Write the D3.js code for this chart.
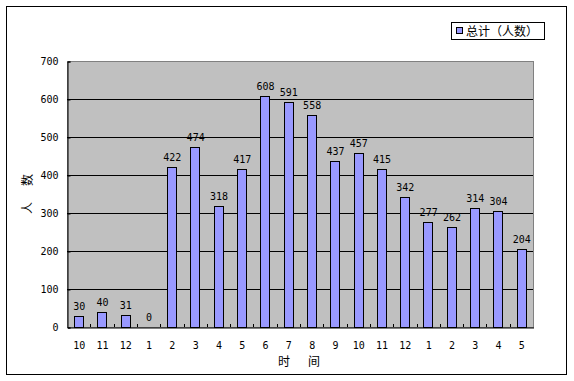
<!DOCTYPE html>
<html><head><meta charset="utf-8">
<script src="https://cdn.jsdelivr.net/npm/d3@7"></script>
<style>body{margin:0;background:#fff}</style>
</head><body>
<svg id="c" width="574" height="381"></svg>
<script>
const categories = ["10","11","12","1","2","3","4","5","6","7","8","9","10","11","12","1","2","3","4","5"];
const values = [30,40,31,0,422,474,318,417,608,591,558,437,457,415,342,277,262,314,304,204];
const yTicks = [0,100,200,300,400,500,600,700];
const seriesName = "总计（人数）";
const yTitle = ["人","数"];
const xTitle = ["时","间"];

const svg = d3.select("#c");
const numFont = "'DejaVu Sans Mono', monospace";
const cjkFont = "'Noto Sans CJK SC', sans-serif";

// outer border
svg.append("rect").attr("x",6.5).attr("y",6.5).attr("width",560).attr("height",368)
  .attr("fill","#fff").attr("stroke","#000").attr("stroke-width",1);

const L=67, T=61, R=533, B=327;
const x = d3.scaleBand().domain(d3.range(categories.length)).range([L,R]).paddingInner(0.6).paddingOuter(0.3);
const xb = d3.scaleBand().domain(d3.range(categories.length)).range([L,R]);
const y = d3.scaleLinear().domain([0,700]).range([B,T]);

// plot area
svg.append("rect").attr("x",L).attr("y",T).attr("width",R-L).attr("height",B-T)
  .attr("fill","#C0C0C0").attr("stroke","#808080").attr("stroke-width",1).attr("transform","translate(0.5,0.5)");

// gridlines
svg.append("g").selectAll("line").data(yTicks.filter(d=>d>0 && d<700)).join("line")
  .attr("x1",L).attr("x2",R).attr("y1",d=>Math.round(y(d))+0.5).attr("y2",d=>Math.round(y(d))+0.5)
  .attr("stroke","#000").attr("stroke-width",1);

// bars
svg.append("g").selectAll("rect").data(values).join("rect")
  .attr("x",(d,i)=>Math.round(x(i))+0.5).attr("width",Math.round(x.bandwidth()))
  .attr("y",d=>Math.round(y(d))+0.5).attr("height",d=>Math.round(y(0))-Math.round(y(d)))
  .attr("fill","#9999FF").attr("stroke","#000").attr("stroke-width",1);

// bar labels
svg.append("g").selectAll("text").data(values).join("text")
  .attr("x",(d,i)=>x(i)+x.bandwidth()/2+0.5).attr("y",d=>y(d)-6)
  .attr("text-anchor","middle").attr("font-family",numFont).attr("font-size",10).attr("fill","#000")
  .text(d=>d);

// y axis
const yAxis = d3.axisLeft(y).tickValues(yTicks).tickSize(-3).tickPadding(9);
const gy = svg.append("g").attr("transform",`translate(${L+0.5},0.5)`).call(yAxis);
gy.select(".domain").attr("stroke","#000");
gy.selectAll(".tick line").attr("stroke","#000");
gy.selectAll("text").attr("font-family",numFont).attr("font-size",10).attr("fill","#000");

// x axis
const xAxis = d3.axisBottom(xb).tickFormat(i=>categories[i]).tickSize(0).tickPadding(14);
const gx = svg.append("g").attr("transform",`translate(0.5,${B+0.5})`).call(xAxis);
gx.select(".domain").attr("stroke","#000");
gx.selectAll("text").attr("font-family",numFont).attr("font-size",10).attr("fill","#000");
// category boundary ticks (inward)
svg.append("g").selectAll("line").data(d3.range(1,categories.length)).join("line")
  .attr("x1",i=>Math.round(xb(i))+0.5).attr("x2",i=>Math.round(xb(i))+0.5)
  .attr("y1",B).attr("y2",B-3).attr("stroke","#000");

// y title (rotated, reading bottom to top)
svg.append("g").attr("transform","translate(32,194) rotate(-90)")
  .selectAll("text").data(yTitle).join("text")
  .attr("x",(d,i)=>-14+i*28).attr("y",0).attr("text-anchor","middle")
  .attr("font-family",cjkFont).attr("font-size",12).attr("fill","#000").text(d=>d);

// x title
svg.append("g").selectAll("text").data(xTitle).join("text")
  .attr("x",(d,i)=>284+i*30).attr("y",366).attr("text-anchor","middle")
  .attr("font-family",cjkFont).attr("font-size",12).attr("fill","#000").text(d=>d);

// legend
const lg = svg.append("g");
lg.append("rect").attr("x",451.5).attr("y",22.5).attr("width",93).attr("height",17)
  .attr("fill","#fff").attr("stroke","#000");
lg.append("rect").attr("x",456.5).attr("y",27.5).attr("width",6).attr("height",6)
  .attr("fill","#9999FF").attr("stroke","#000");
lg.append("text").attr("x",466).attr("y",36).attr("font-family",cjkFont).attr("font-size",12)
  .attr("fill","#000").text(seriesName);
</script>
</body></html>
